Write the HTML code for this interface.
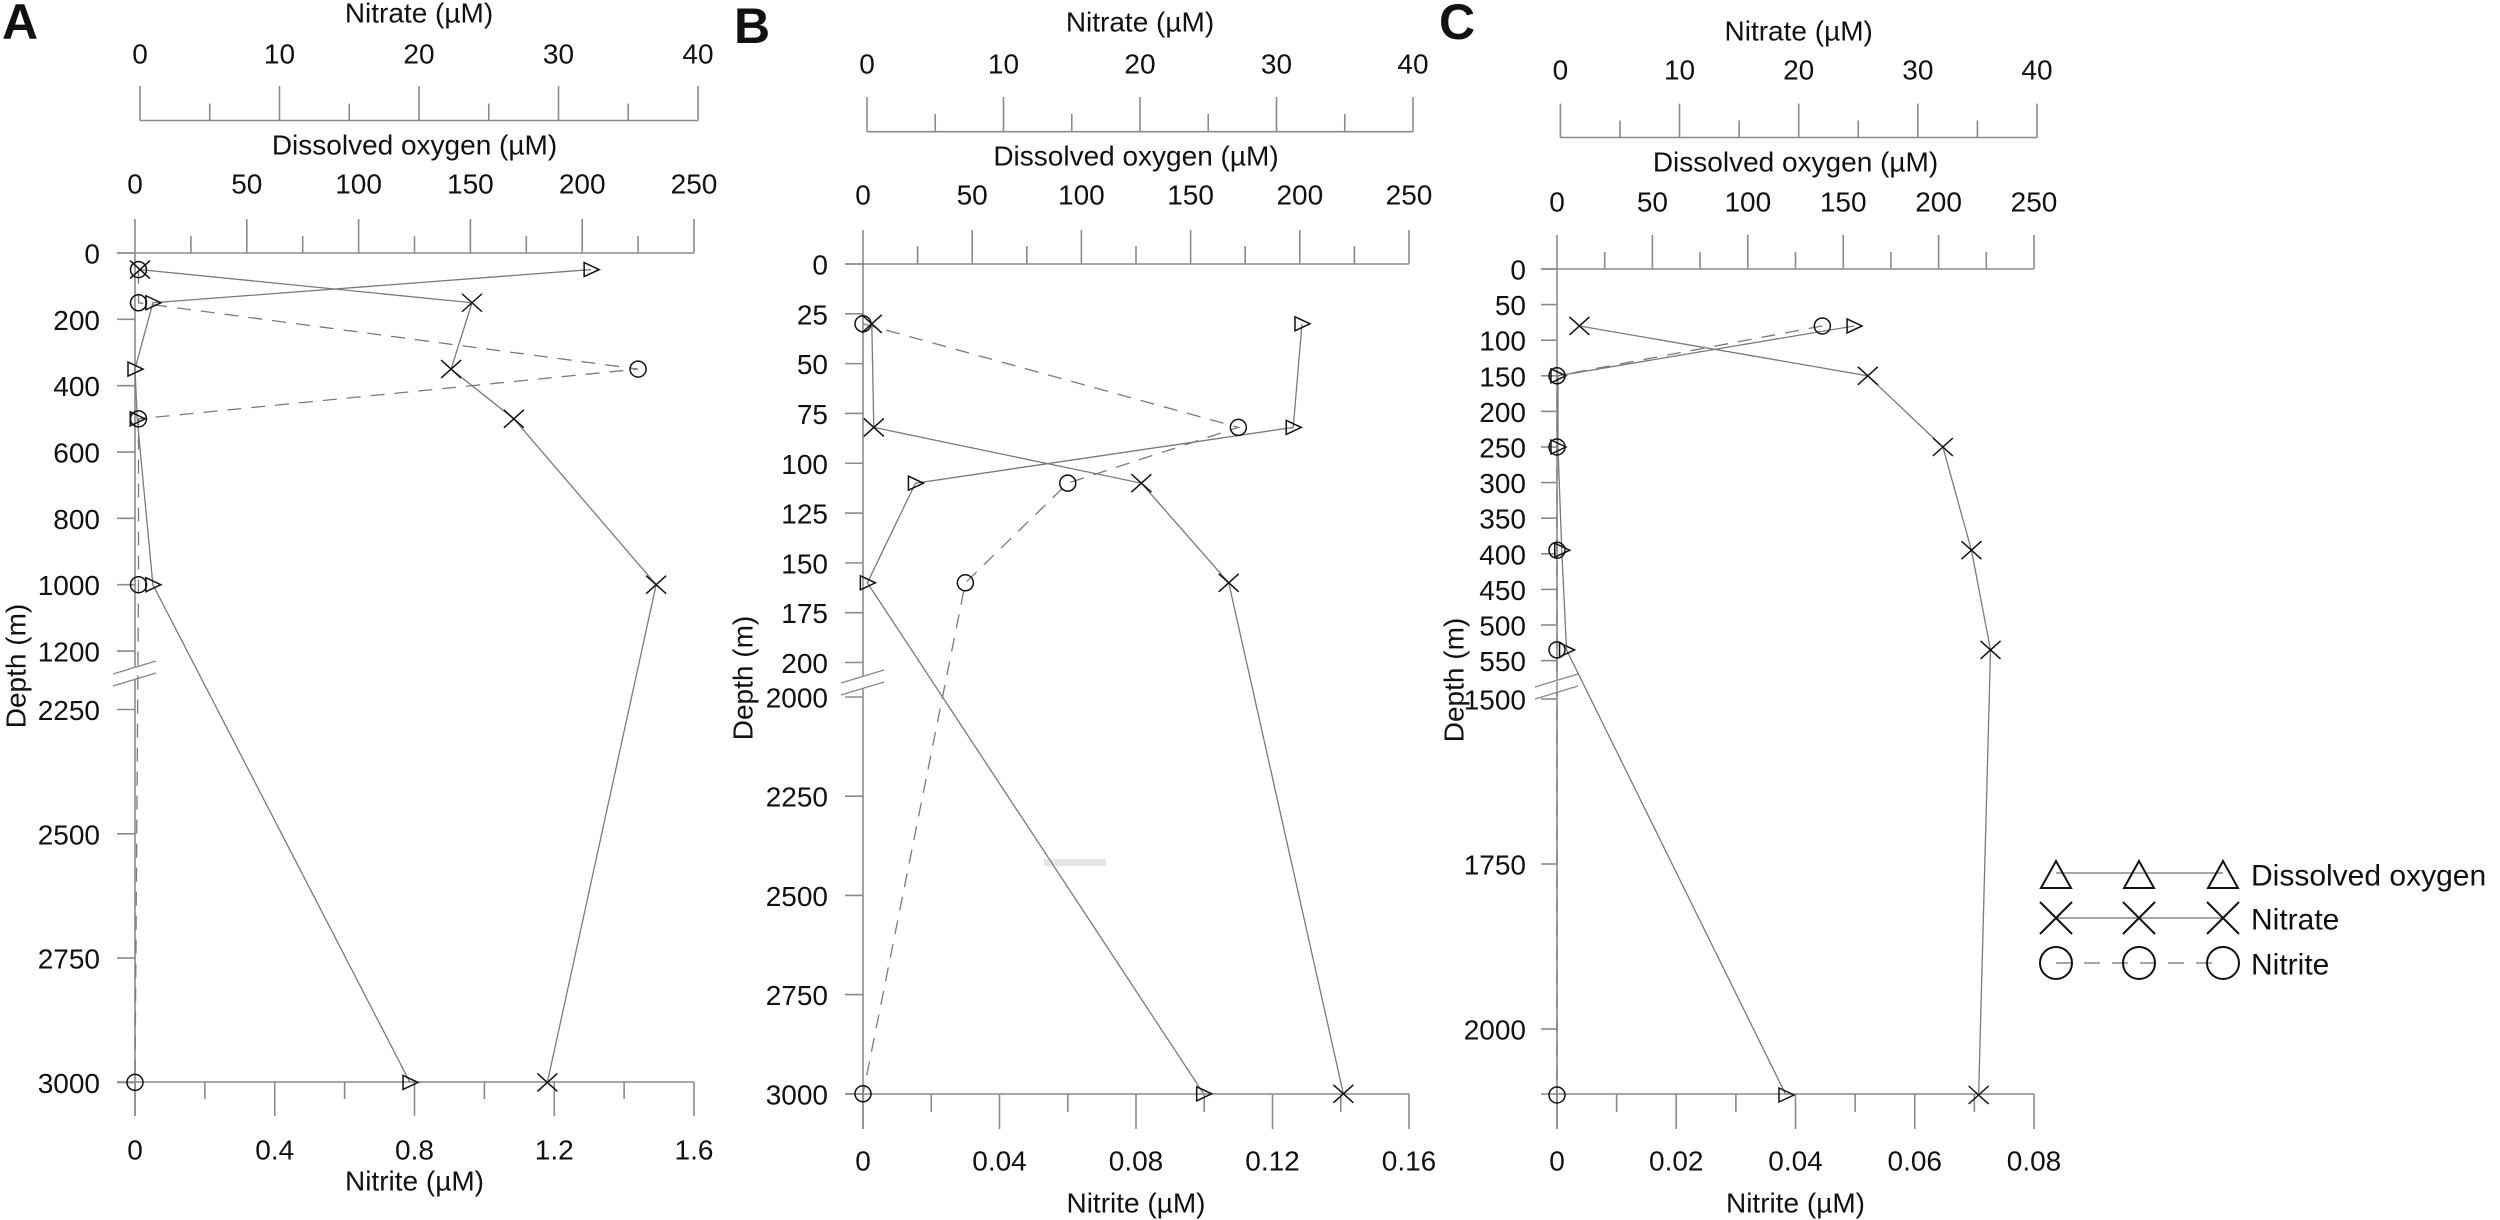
<!DOCTYPE html>
<html><head><meta charset="utf-8">
<style>
html,body{margin:0;padding:0;background:#fff;}
svg{display:block;font-family:"Liberation Sans",Arial,sans-serif;}
</style></head>
<body>
<svg id="chart" width="2500" height="1220" viewBox="0 0 2500 1220" xmlns="http://www.w3.org/2000/svg">
<rect x="0" y="0" width="2500" height="1220" fill="#fff"/>
<rect x="1044" y="859" width="62" height="7" fill="#e6e6e6"/>
<g>
  <g>
    <line x1="2056" y1="873" x2="2223" y2="873" stroke="#888" stroke-width="1.4"/>
    <polygon points="2041,888 2056,861 2071,888" fill="none" stroke="#111" stroke-width="2"/>
    <polygon points="2124,888 2139,861 2154,888" fill="none" stroke="#111" stroke-width="2"/>
    <polygon points="2208,888 2223,861 2238,888" fill="none" stroke="#111" stroke-width="2"/>
    <text x="2251" y="876" font-size="30" dominant-baseline="central" fill="#111">Dissolved oxygen</text>
  </g>
  <g>
    <line x1="2056" y1="918" x2="2223" y2="918" stroke="#888" stroke-width="1.4"/>
    <path d="M2040,902 L2072,934 M2072,902 L2040,934 M2123,902 L2155,934 M2155,902 L2123,934 M2207,902 L2239,934 M2239,902 L2207,934" stroke="#111" stroke-width="2" fill="none"/>
    <text x="2251" y="920" font-size="30" dominant-baseline="central" fill="#111">Nitrate</text>
  </g>
  <g>
    <line x1="2056" y1="963" x2="2223" y2="963" stroke="#888" stroke-width="1.4" stroke-dasharray="16,12"/>
    <circle cx="2056" cy="963" r="16" fill="none" stroke="#111" stroke-width="2"/>
    <circle cx="2139" cy="963" r="16" fill="none" stroke="#111" stroke-width="2"/>
    <circle cx="2223" cy="963" r="16" fill="none" stroke="#111" stroke-width="2"/>
    <text x="2251" y="965" font-size="30" dominant-baseline="central" fill="#111">Nitrite</text>
  </g>
</g>
</svg>
<script>
// ---- Panel A data ----
const depthA = [50, 150, 350, 500, 1000, 3000];
const oxygenA = [204, 8, 0, 1, 8, 123];
const nitrateA = [0, 23.8, 22.3, 26.8, 37, 29.2];
const nitriteA = [0.01, 0.01, 1.44, 0.01, 0.01, 0];
const depthTicksA = [0, 200, 400, 600, 800, 1000, 1200, 2250, 2500, 2750, 3000];
const nitriteTicksA = ["0", "0.4", "0.8", "1.2", "1.6"];
// ---- Panel B data ----
const depthB = [30, 82, 110, 160, 3000];
const oxygenB = [201, 197, 24, 2, 156];
const nitrateB = [0.35, 0.5, 20.1, 26.5, 34.9];
const nitriteB = [0, 0.110, 0.060, 0.030, 0];
const depthTicksB = [0, 25, 50, 75, 100, 125, 150, 175, 200, 2000, 2250, 2500, 2750, 3000];
const nitriteTicksB = ["0", "0.04", "0.08", "0.12", "0.16"];
// ---- Panel C data ----
const depthC = [80, 150, 250, 395, 535, 2100];
const oxygenC = [155.7, 0.5, 0.5, 2.5, 5, 120];
const nitrateC = [1.6, 25.8, 32.1, 34.5, 36.1, 35.1];
const nitriteC = [0.0445, 0, 0, 0, 0, 0];
const depthTicksC = [0, 50, 100, 150, 200, 250, 300, 350, 400, 450, 500, 550, 1500, 1750, 2000];
const nitriteTicksC = ["0", "0.02", "0.04", "0.06", "0.08"];
// shared top axes
const nitrateTicks = ["0", "10", "20", "30", "40"];
const oxygenTicks = ["0", "50", "100", "150", "200", "250"];

const NS = "http://www.w3.org/2000/svg";
const svg = document.getElementById("chart");
const AX = "#8a8a8a", LN = "#7a7a7a", MK = "#111";

function mk(parent, tag, attrs, txt) {
  const e = document.createElementNS(NS, tag);
  for (const k in attrs) e.setAttribute(k, attrs[k]);
  if (txt !== undefined) e.textContent = txt;
  parent.appendChild(e);
  return e;
}
function txt(parent, x, y, s, size, anchor, extra) {
  const a = {x: x, y: y, "font-size": size, "text-anchor": anchor, "dominant-baseline": "central", fill: "#111"};
  if (extra) for (const k in extra) a[k] = extra[k];
  return mk(parent, "text", a, s);
}

function panel(P, depths, oxy, no3, no2, dTicks, no2Ticks) {
  const g = mk(svg, "g", {});
  
  
  const yOf = d => d <= P.upMax ? P.y0 + d * P.kUp : P.lowY + (d - P.lowD) * P.kLow;
  const xO = v => P.doX0 + (P.doX1 - P.doX0) * v / 250;
  const xN = v => P.nX0 + (P.nX1 - P.nX0) * v / 40;
  const xNi = v => P.doX0 + (P.doX1 - P.doX0) * v / P.no2Max;

  const lab = txt(g, P.labX, P.labY, P.id, 50, "start", {"font-weight": "bold"});
  
  

  // nitrate axis (top)
  const na = mk(g, "g", {stroke: AX, "stroke-width": 1.6});
  
  
  mk(na, "line", {x1: P.nX0, y1: P.nY, x2: P.nX1, y2: P.nY});
  for (let i = 0; i <= 8; i++) {
    const x = xN(i * 5);
    mk(na, "line", {x1: x, y1: P.nY, x2: x, y2: i % 2 ? P.nMin : P.nMaj});
  }
  nitrateTicks.forEach((t, i) => {
    const e = txt(g, xN(i * 10), P.nLab, t, 28, "middle");
    
    
  });
  const nt = txt(g, (P.nX0 + P.nX1) / 2, P.nTitle, "Nitrate (\u00b5M)", 28, "middle");
  
  

  // oxygen axis
  const oa = mk(g, "g", {stroke: AX, "stroke-width": 1.6});
  
  
  mk(oa, "line", {x1: P.tickX, y1: P.y0, x2: P.doX1, y2: P.y0});
  for (let i = 0; i <= 10; i++) {
    const x = xO(i * 25);
    mk(oa, "line", {x1: x, y1: P.y0, x2: x, y2: i % 2 ? P.oMin : P.oMaj});
  }
  oxygenTicks.forEach((t, i) => {
    const e = txt(g, xO(i * 50), P.oLab, t, 28, "middle");
    
    
  });
  const ot = txt(g, (P.doX0 + P.doX1) / 2, P.oTitle, "Dissolved oxygen (\u00b5M)", 28, "middle");
  
  

  // depth axis
  const da = mk(g, "g", {stroke: AX, "stroke-width": 1.6});
  
  
  mk(da, "line", {x1: P.doX0, y1: P.y0, x2: P.doX0, y2: P.biMaj});
  dTicks.forEach(d => {
    const y = yOf(d);
    mk(da, "line", {x1: P.tickX, y1: y, x2: P.doX0, y2: y});
    const e = txt(g, P.labR, y + 1, String(d), 28, "end");
    
    
  });
  // axis break
  const br = mk(g, "g", {});
  
  
  const bx0 = P.doX0 - 22, bx1 = P.doX0 + 21, bc = P.bc;
  mk(br, "polygon", {points: `${bx0},${bc+7} ${bx1},${bc-6} ${bx1},${bc+6} ${bx0},${bc+19}`, fill: "#fff", stroke: "none"});
  mk(br, "line", {x1: bx0, y1: bc + 7, x2: bx1, y2: bc - 6, stroke: AX, "stroke-width": 1.4});
  mk(br, "line", {x1: bx0, y1: bc + 19, x2: bx1, y2: bc + 6, stroke: AX, "stroke-width": 1.4});
  const dt = txt(g, P.dtX, P.dtY, "Depth (m)", 28, "middle", {transform: `rotate(-90 ${P.dtX} ${P.dtY})`});
  
  

  // nitrite axis (bottom)
  const ba = mk(g, "g", {stroke: AX, "stroke-width": 1.6});
  
  
  mk(ba, "line", {x1: P.tickX, y1: P.bY, x2: P.doX1, y2: P.bY});
  for (let i = 0; i <= 8; i++) {
    const x = P.doX0 + (P.doX1 - P.doX0) * i / 8;
    mk(ba, "line", {x1: x, y1: P.bY, x2: x, y2: i % 2 ? P.biMin : P.biMaj});
  }
  no2Ticks.forEach((t, i) => {
    const e = txt(g, xNi(parseFloat(t)), P.biLab, t, 28, "middle");
    
    
  });
  const bt = txt(g, (P.doX0 + P.doX1) / 2, P.biTitle, "Nitrite (\u00b5M)", 28, "middle");
  
  

  // series lines
  const ptsO = depths.map((d, i) => [xO(oxy[i]), yOf(d)]);
  const ptsN = depths.map((d, i) => [xN(no3[i]), yOf(d)]);
  const ptsI = depths.map((d, i) => [xNi(no2[i]), yOf(d)]);
  const lo = mk(g, "polyline", {points: ptsO.map(p => p.join(",")).join(" "), fill: "none", stroke: LN, "stroke-width": 1.3});
  
  
  const ln = mk(g, "polyline", {points: ptsN.map(p => p.join(",")).join(" "), fill: "none", stroke: LN, "stroke-width": 1.3});
  
  
  const li = mk(g, "polyline", {points: ptsI.map(p => p.join(",")).join(" "), fill: "none", stroke: LN, "stroke-width": 1.3, "stroke-dasharray": "14,10"});
  
  

  ptsO.forEach(p => {
    const e = mk(g, "polygon", {points: `${p[0]-7},${p[1]-7} ${p[0]+8},${p[1]} ${p[0]-7},${p[1]+7}`, fill: "none", stroke: MK, "stroke-width": 1.5});
    
    
  });
  ptsN.forEach(p => {
    const e = mk(g, "path", {d: `M${p[0]-10},${p[1]-9} L${p[0]+10},${p[1]+9} M${p[0]+10},${p[1]-9} L${p[0]-10},${p[1]+9}`, fill: "none", stroke: MK, "stroke-width": 1.5});
    
    
  });
  ptsI.forEach(p => {
    const e = mk(g, "circle", {cx: p[0], cy: p[1], r: 8, fill: "none", stroke: MK, "stroke-width": 1.5});
    
    
  });
}

panel({id: "A", labX: 2, labY: 22,
  nX0: 140, nX1: 698, nY: 120.5, nMaj: 86, nMin: 103.6, nLab: 54, nTitle: 13,
  doX0: 135, doX1: 694, y0: 253, oMaj: 219, oMin: 236, oLab: 184, oTitle: 145,
  tickX: 117, labR: 100, upMax: 1200, kUp: 0.3317, lowD: 2250, lowY: 709.5, kLow: 0.4972,
  bY: 1082, biMaj: 1116, biMin: 1099, biLab: 1150, biTitle: 1181, no2Max: 1.6,
  bc: 667, dtX: 16, dtY: 666}, depthA, oxygenA, nitrateA, nitriteA, depthTicksA, nitriteTicksA);

panel({id: "B", labX: 734, labY: 26,
  nX0: 867, nX1: 1413, nY: 131.7, nMaj: 97, nMin: 114, nLab: 64, nTitle: 22,
  doX0: 863, doX1: 1409, y0: 264, oMaj: 230, oMin: 246, oLab: 195, oTitle: 156,
  tickX: 845, labR: 828, upMax: 200, kUp: 1.9925, lowD: 2000, lowY: 697, kLow: 0.3968,
  bY: 1094, biMaj: 1129, biMin: 1112, biLab: 1161, biTitle: 1203, no2Max: 0.16,
  bc: 676, dtX: 743, dtY: 678}, depthB, oxygenB, nitrateB, nitriteB, depthTicksB, nitriteTicksB);

panel({id: "C", labX: 1439, labY: 22,
  nX0: 1560.4, nX1: 2037, nY: 137.5, nMaj: 103.6, nMin: 120.5, nLab: 70, nTitle: 31,
  doX0: 1557, doX1: 2034, y0: 269, oMaj: 235, oMin: 252, oLab: 202, oTitle: 162,
  tickX: 1541, labR: 1526, upMax: 550, kUp: 0.712, lowD: 1500, lowY: 699, kLow: 0.66,
  bY: 1094, biMaj: 1129, biMin: 1112, biLab: 1161, biTitle: 1203, no2Max: 0.08,
  bc: 680, dtX: 1454, dtY: 680}, depthC, oxygenC, nitrateC, nitriteC, depthTicksC, nitriteTicksC);
</script>
</body></html>
